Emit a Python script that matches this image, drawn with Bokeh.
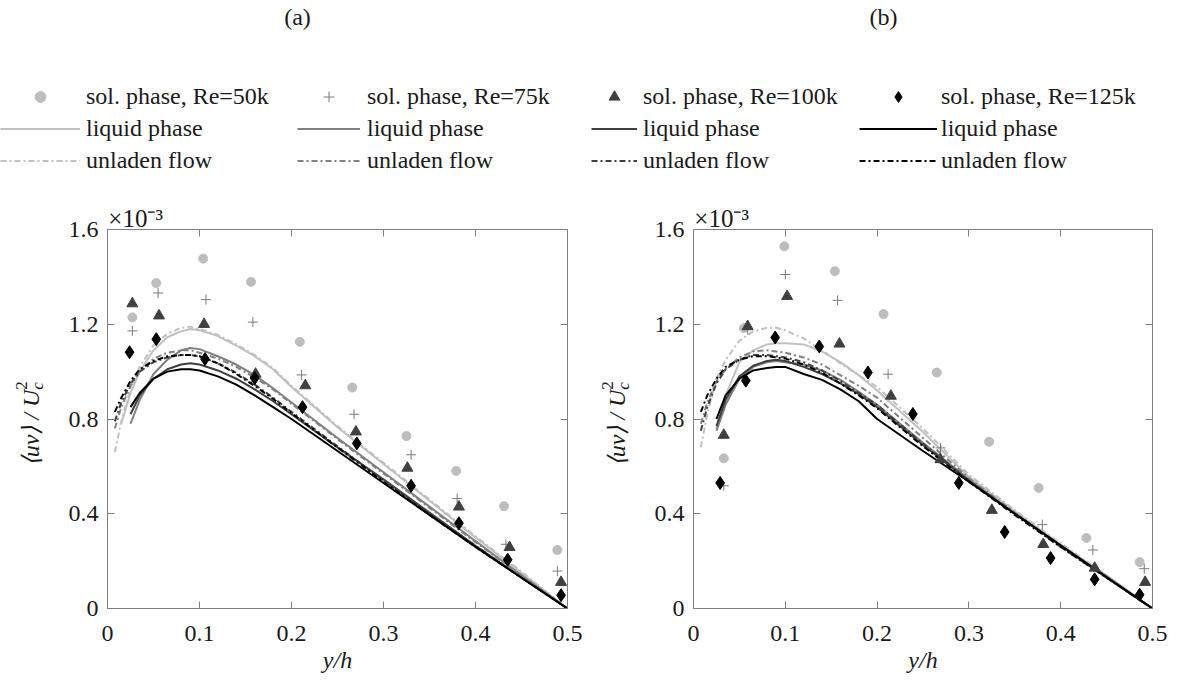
import numpy as np
from bokeh.plotting import figure
from bokeh.models import (Range1d, LinearAxis, FixedTicker, CustomJSTickFormatter,
                          Label, Legend, LegendItem)
from bokeh.layouts import column, row
from bokeh.embed import file_html
from bokeh.resources import INLINE

NAN = float("nan")

# ---------------- data (values in units of 1e-3) ----------------
RE_NAMES = ["50k", "75k", "100k", "125k"]
X_TICKS = [0, 0.1, 0.2, 0.3, 0.4, 0.5]
Y_TICKS = [0, 0.4, 0.8, 1.2, 1.6]

# common abscissa of the profiles (y/h)
X_LINE = [0.008, 0.015, 0.025, 0.035, 0.05, 0.065, 0.08, 0.09, 0.10, 0.12,
          0.14, 0.16, 0.18, 0.20, 0.25, 0.30, 0.35, 0.40, 0.45, 0.50]

# panel (a) profiles
A_LIQ_50 = [NAN, 0.78, 0.91, 1.00, 1.09, 1.145, 1.17, 1.18, 1.175, 1.15, 1.11, 1.065, 1.01, 0.935, 0.765, 0.61, 0.455, 0.30, 0.15, 0.0]
A_UNL_50 = [0.66, 0.79, 0.93, 1.02, 1.11, 1.16, 1.185, 1.19, 1.18, 1.155, 1.115, 1.07, 1.015, 0.94, 0.77, 0.615, 0.46, 0.305, 0.155, 0.0]
A_LIQ_75 = [NAN, NAN, 0.78, 0.88, 0.99, 1.05, 1.09, 1.10, 1.095, 1.065, 1.03, 0.985, 0.93, 0.87, 0.72, 0.575, 0.43, 0.285, 0.14, 0.0]
A_UNL_75 = [0.76, 0.85, 0.94, 1.00, 1.055, 1.08, 1.09, 1.09, 1.08, 1.055, 1.02, 0.975, 0.925, 0.865, 0.715, 0.57, 0.425, 0.28, 0.14, 0.0]
A_LIQ_100 = [NAN, NAN, 0.82, 0.90, 0.97, 1.01, 1.03, 1.035, 1.03, 1.005, 0.97, 0.925, 0.875, 0.82, 0.68, 0.545, 0.405, 0.265, 0.13, 0.0]
A_UNL_100 = [0.79, 0.87, 0.95, 1.00, 1.04, 1.06, 1.07, 1.07, 1.065, 1.035, 0.995, 0.945, 0.89, 0.83, 0.685, 0.54, 0.40, 0.265, 0.13, 0.0]
A_LIQ_125 = [NAN, NAN, 0.85, 0.91, 0.97, 1.00, 1.01, 1.01, 1.005, 0.98, 0.945, 0.90, 0.85, 0.80, 0.665, 0.53, 0.395, 0.26, 0.13, 0.0]
A_UNL_125 = [0.83, 0.89, 0.96, 1.01, 1.045, 1.065, 1.07, 1.07, 1.065, 1.035, 0.99, 0.94, 0.885, 0.825, 0.68, 0.535, 0.395, 0.26, 0.13, 0.0]

# panel (b) profiles
B_LIQ_50 = [NAN, NAN, 0.76, 0.90, 1.04, 1.09, 1.115, 1.12, 1.12, 1.115, 1.085, 1.04, 0.985, 0.92, 0.745, 0.555, 0.41, 0.27, 0.14, 0.0]
B_UNL_50 = [0.68, 0.82, 0.97, 1.05, 1.13, 1.17, 1.185, 1.185, 1.175, 1.14, 1.09, 1.035, 0.985, 0.935, 0.76, 0.565, 0.415, 0.275, 0.14, 0.0]
B_LIQ_75 = [NAN, NAN, 0.75, 0.86, 0.97, 1.02, 1.04, 1.045, 1.04, 1.03, 1.005, 0.965, 0.915, 0.86, 0.70, 0.545, 0.40, 0.265, 0.135, 0.0]
B_UNL_75 = [0.78, 0.87, 0.96, 1.01, 1.06, 1.085, 1.09, 1.085, 1.08, 1.06, 1.03, 0.985, 0.94, 0.89, 0.72, 0.55, 0.405, 0.265, 0.135, 0.0]
B_LIQ_100 = [NAN, NAN, 0.77, 0.88, 0.98, 1.025, 1.045, 1.05, 1.045, 1.02, 0.99, 0.95, 0.905, 0.85, 0.69, 0.54, 0.40, 0.265, 0.13, 0.0]
B_UNL_100 = [0.75, 0.85, 0.95, 1.01, 1.05, 1.07, 1.07, 1.065, 1.06, 1.04, 1.005, 0.96, 0.91, 0.86, 0.695, 0.54, 0.40, 0.26, 0.13, 0.0]
B_LIQ_125 = [NAN, NAN, 0.80, 0.90, 0.97, 1.005, 1.015, 1.02, 1.02, 0.99, 0.965, 0.925, 0.875, 0.80, 0.665, 0.535, 0.40, 0.267, 0.133, 0.0]
B_UNL_125 = [0.83, 0.90, 0.97, 1.02, 1.05, 1.065, 1.065, 1.06, 1.055, 1.03, 0.995, 0.95, 0.90, 0.845, 0.685, 0.535, 0.395, 0.26, 0.13, 0.0]

# panel (a) solid phase points
A_X_50 = [0.027, 0.053, 0.104, 0.156, 0.209, 0.266, 0.325, 0.379, 0.431, 0.489]
A_Y_50 = [1.229, 1.374, 1.477, 1.379, 1.126, 0.933, 0.728, 0.581, 0.432, 0.247]
A_X_75 = [0.027, 0.055, 0.107, 0.158, 0.211, 0.268, 0.330, 0.380, 0.433, 0.489]
A_Y_75 = [1.172, 1.332, 1.304, 1.209, 0.986, 0.820, 0.649, 0.464, 0.271, 0.158]
A_X_100 = [0.027, 0.056, 0.105, 0.161, 0.215, 0.270, 0.326, 0.382, 0.437, 0.493]
A_Y_100 = [1.287, 1.236, 1.200, 0.990, 0.941, 0.746, 0.593, 0.429, 0.258, 0.111]
A_X_125 = [0.024, 0.053, 0.106, 0.160, 0.212, 0.271, 0.330, 0.382, 0.435, 0.493]
A_Y_125 = [1.082, 1.137, 1.053, 0.972, 0.850, 0.697, 0.518, 0.360, 0.206, 0.056]

# panel (b) solid phase points
B_X_50 = [0.033, 0.055, 0.099, 0.154, 0.207, 0.265, 0.322, 0.376, 0.428, 0.486]
B_Y_50 = [0.634, 1.184, 1.529, 1.424, 1.243, 0.996, 0.704, 0.509, 0.298, 0.196]
B_X_75 = [0.033, 0.059, 0.100, 0.157, 0.212, 0.269, 0.380, 0.435, 0.491]
B_Y_75 = [0.518, 1.177, 1.410, 1.301, 0.989, 0.678, 0.354, 0.247, 0.168]
B_X_100 = [0.033, 0.059, 0.102, 0.159, 0.215, 0.269, 0.325, 0.381, 0.437, 0.492]
B_Y_100 = [0.732, 1.191, 1.318, 1.117, 0.897, 0.629, 0.415, 0.271, 0.171, 0.111]
B_X_125 = [0.029, 0.057, 0.089, 0.137, 0.190, 0.239, 0.289, 0.339, 0.389, 0.437, 0.486]
B_Y_125 = [0.530, 0.962, 1.144, 1.106, 0.996, 0.821, 0.530, 0.323, 0.213, 0.123, 0.058]

# ---------------- styles ----------------
FONT = "Liberation Serif"
TXT = "#1a1a1a"
LINE_COLORS = ["#c0c0c0", "#808080", "#404040", "#000000"]
MARKERS = ["circle", "cross", "triangle", "diamond"]
MARKER_COLORS = ["#bdbdbd", "#7a7a7a", "#404040", "#000000"]
MARKER_SIZES = [9, 10, 11, 13]
DASH = "6 3 2 3"
AXIS_GREY = "#7f7f7f"
TICK_FMT = "return Number(tick.toFixed(2)).toString();"
TOP_H = 201
ROW_H = 686 - TOP_H
BOTTOM_B = 78
EXP_PAD = "\u00a0" * 9   # shifts the centred exponent label to start at the frame edge


def add_markers(p, i, xs, ys):
    if MARKERS[i] == "cross":
        return p.scatter(xs, ys, marker="cross", size=MARKER_SIZES[i],
                         line_color=MARKER_COLORS[i], line_width=1)
    return p.scatter(xs, ys, marker=MARKERS[i], size=MARKER_SIZES[i],
                     fill_color=MARKER_COLORS[i], line_color=MARKER_COLORS[i])


def style_axis(ax, labels=True):
    ax.axis_line_color = AXIS_GREY
    ax.major_tick_line_color = AXIS_GREY
    ax.major_tick_in = 7
    ax.major_tick_out = 0
    ax.minor_tick_line_color = None
    ax.major_label_text_font = FONT
    ax.major_label_text_font_size = "24px"
    ax.major_label_text_color = TXT
    if labels:
        ax.formatter = CustomJSTickFormatter(code=TICK_FMT)
    else:
        ax.formatter = CustomJSTickFormatter(code="return '';")
        ax.major_label_text_font_size = "0px"
        ax.major_label_standoff = 0


def blank_fig(width, height):
    f = figure(width=width, height=height, x_range=Range1d(0, width), y_range=Range1d(height, 0),
               x_axis_location=None, y_axis_location=None,
               output_backend="svg", toolbar_location=None,
               min_border=0, outline_line_color=None,
               background_fill_color="white", border_fill_color="white")
    f.grid.visible = False
    return f


def make_panel(width, left, right, liq, unl, pts_x, pts_y):
    p = figure(width=width, height=ROW_H, x_range=Range1d(0, 0.5), y_range=Range1d(0, 1.6),
               output_backend="svg", toolbar_location=None,
               min_border_left=left, min_border_right=right,
               min_border_top=0, min_border_bottom=BOTTOM_B,
               background_fill_color="white", border_fill_color="white",
               outline_line_color=AXIS_GREY)
    p.grid.visible = False
    p.xaxis.ticker = FixedTicker(ticks=X_TICKS)
    p.yaxis.ticker = FixedTicker(ticks=Y_TICKS)
    style_axis(p.xaxis[0])
    style_axis(p.yaxis[0])
    p.xaxis.major_label_standoff = 17
    p.yaxis.major_label_standoff = 9
    p.xaxis.axis_label = "y/h"
    p.xaxis.axis_label_text_font = FONT
    p.xaxis.axis_label_text_font_style = "italic"
    p.xaxis.axis_label_text_font_size = "24px"
    p.xaxis.axis_label_text_color = TXT
    p.xaxis.axis_label_standoff = 3
    # top axis: ticks only, carries the common exponent
    top_ax = LinearAxis(ticker=FixedTicker(ticks=X_TICKS))
    style_axis(top_ax, labels=False)
    top_ax.axis_label = EXP_PAD + "\u00d710\u207b\u00b3"
    top_ax.axis_label_align = "start"
    top_ax.axis_label_standoff = -2
    top_ax.axis_label_text_font = FONT
    top_ax.axis_label_text_font_style = "normal"
    top_ax.axis_label_text_font_size = "25px"
    top_ax.axis_label_text_color = TXT
    p.add_layout(top_ax, "above")
    rgt_ax = LinearAxis(ticker=FixedTicker(ticks=Y_TICKS))
    style_axis(rgt_ax, labels=False)
    p.add_layout(rgt_ax, "right")

    for i in range(4):
        p.line(X_LINE, unl[i], line_color=LINE_COLORS[i], line_width=2, line_dash=DASH)
        p.line(X_LINE, liq[i], line_color=LINE_COLORS[i], line_width=2)
    for i in range(4):
        add_markers(p, i, pts_x[i], pts_y[i])
    return p


def ylabel_fig(width, lx, ly):
    f = blank_fig(width, ROW_H)
    f.add_layout(Label(x=lx, y=ly, text="\u27e8uv\u27e9 / U", angle=np.pi / 2,
                       text_font=FONT, text_font_size="24px", text_font_style="italic",
                       text_align="right", text_baseline="middle", text_color=TXT))
    f.add_layout(Label(x=lx, y=ly, x_offset=7, text="c", angle=np.pi / 2,
                       text_font=FONT, text_font_size="17px", text_font_style="italic",
                       text_align="left", text_baseline="middle", text_color=TXT))
    f.add_layout(Label(x=lx, y=ly, x_offset=-9, text="2", angle=np.pi / 2,
                       text_font=FONT, text_font_size="17px",
                       text_align="left", text_baseline="middle", text_color=TXT))
    return f


# layout widths (page x): ya 0-50 | pa 50-593 | yb 593-635 | pb 635-1179
pa = make_panel(543, 57, 26,
                [A_LIQ_50, A_LIQ_75, A_LIQ_100, A_LIQ_125],
                [A_UNL_50, A_UNL_75, A_UNL_100, A_UNL_125],
                [A_X_50, A_X_75, A_X_100, A_X_125],
                [A_Y_50, A_Y_75, A_Y_100, A_Y_125])
pb = make_panel(544, 58, 27,
                [B_LIQ_50, B_LIQ_75, B_LIQ_100, B_LIQ_125],
                [B_UNL_50, B_UNL_75, B_UNL_100, B_UNL_125],
                [B_X_50, B_X_75, B_X_100, B_X_125],
                [B_Y_50, B_Y_75, B_Y_100, B_Y_125])
ya = ylabel_fig(50, 30, 406 - TOP_H)
yb = ylabel_fig(42, 23, 406 - TOP_H)

# ---------------- legend and panel titles ----------------
top = blank_fig(1179, TOP_H)

for tx, txt in [(297, "(a)"), (883, "(b)")]:
    top.add_layout(Label(x=tx, y=16, text=txt, text_font=FONT, text_font_size="24px",
                         text_align="center", text_baseline="middle", text_color=TXT))

LEG_X = [0, 297, 591, 859]
LEG_GLYPH_W = [80, 63, 46, 78]
LEG_STANDOFF = [6, 7, 6, 4]
for i in range(4):
    r_pts = add_markers(top, i, [NAN], [NAN])
    r_liq = top.line([NAN], [NAN], line_color=LINE_COLORS[i], line_width=2)
    r_unl = top.line([NAN], [NAN], line_color=LINE_COLORS[i], line_width=2, line_dash=DASH)
    items = [LegendItem(label="sol. phase, Re=" + RE_NAMES[i], renderers=[r_pts]),
             LegendItem(label="liquid phase", renderers=[r_liq]),
             LegendItem(label="unladen flow", renderers=[r_unl])]
    leg = Legend(items=items, location=(LEG_X[i], TOP_H - 174), orientation="vertical",
                 padding=0, margin=0, spacing=5, glyph_width=LEG_GLYPH_W[i],
                 glyph_height=27, label_height=27, label_standoff=LEG_STANDOFF[i],
                 label_text_font=FONT, label_text_font_size="24px",
                 label_text_color=TXT,
                 border_line_color=None, background_fill_alpha=0)
    top.add_layout(leg)

layout = column(top, row(ya, pa, yb, pb))
open("out.html", "w").write(file_html(layout, INLINE))
